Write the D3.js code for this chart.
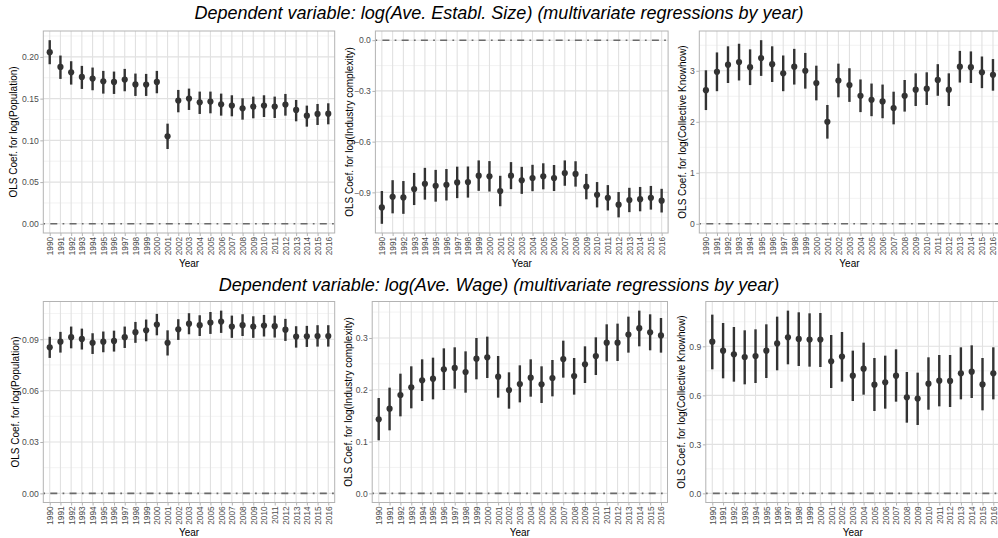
<!DOCTYPE html>
<html><head><meta charset="utf-8">
<script src="https://cdn.jsdelivr.net/npm/d3@7"></script>
<style>
body{margin:0;background:#fff;}
svg{display:block;font-family:"Liberation Sans",Arial,sans-serif;}
</style>
</head><body>
<svg id="chart" width="998" height="538"></svg>
<script>
// ---------------- DATA ----------------
const years = ["1990","1991","1992","1993","1994","1995","1996","1997","1998","1999","2000","2001","2002","2003","2004","2005","2006","2007","2008","2009","2010","2011","2012","2013","2014","2015","2016"];

const titles = [
  "Dependent variable: log(Ave. Establ. Size) (multivariate regressions by year)",
  "Dependent variable: log(Ave. Wage) (multivariate regressions by year)"
];
const yLabels = ["OLS Coef. for log(Population)", "OLS Coef. for log(Industry complexity)", "OLS Coef. for log(Collective Knowhow)"];
const xLabel = "Year";

// Establishment size: population
const sizePopEst = [0.2056,0.188,0.1816,0.176,0.174,0.1708,0.170,0.1728,0.167,0.1668,0.170,0.1048,0.1476,0.150,0.1456,0.1464,0.1432,0.1416,0.1384,0.1404,0.1416,0.1404,0.1428,0.1364,0.1296,0.1316,0.132];
const sizePopHi  = [0.220,0.2016,0.1948,0.1892,0.1872,0.1832,0.1824,0.1856,0.180,0.1796,0.1832,0.120,0.1604,0.162,0.1584,0.1584,0.156,0.154,0.1504,0.1524,0.154,0.1524,0.1556,0.1484,0.1416,0.1436,0.1444];
const sizePopLo  = [0.1912,0.1736,0.1668,0.1616,0.160,0.156,0.1556,0.1588,0.1532,0.1532,0.1564,0.0896,0.1336,0.1364,0.1316,0.1324,0.1296,0.1288,0.1248,0.1264,0.128,0.1268,0.1296,0.1228,0.1164,0.1184,0.1192];

// Establishment size: industry complexity
const sizeIndEst = [-0.989,-0.926,-0.930,-0.880,-0.849,-0.861,-0.855,-0.841,-0.839,-0.801,-0.805,-0.892,-0.801,-0.829,-0.815,-0.805,-0.815,-0.786,-0.791,-0.866,-0.914,-0.932,-0.973,-0.945,-0.940,-0.932,-0.949];
const sizeIndHi  = [-0.892,-0.828,-0.833,-0.785,-0.755,-0.767,-0.762,-0.748,-0.747,-0.711,-0.715,-0.802,-0.721,-0.749,-0.737,-0.728,-0.738,-0.711,-0.716,-0.791,-0.839,-0.857,-0.898,-0.873,-0.868,-0.862,-0.879];
const sizeIndLo  = [-1.086,-1.024,-1.027,-0.975,-0.943,-0.955,-0.948,-0.934,-0.931,-0.891,-0.895,-0.982,-0.881,-0.909,-0.893,-0.882,-0.892,-0.861,-0.866,-0.941,-0.989,-1.007,-1.048,-1.017,-1.012,-1.002,-1.019];

// Establishment size: collective knowhow
const sizeKnowEst = [2.62,2.98,3.12,3.17,3.07,3.25,3.13,2.95,3.08,3.00,2.76,2.00,2.81,2.72,2.51,2.43,2.40,2.27,2.51,2.63,2.65,2.82,2.63,3.08,3.07,2.97,2.92];
const sizeKnowHi  = [3.01,3.36,3.48,3.53,3.42,3.60,3.48,3.30,3.43,3.35,3.10,2.33,3.14,3.05,2.83,2.75,2.73,2.59,2.82,2.95,2.97,3.13,2.95,3.39,3.38,3.28,3.23];
const sizeKnowLo  = [2.23,2.60,2.76,2.81,2.72,2.90,2.78,2.60,2.73,2.65,2.42,1.67,2.48,2.39,2.19,2.11,2.07,1.95,2.20,2.31,2.33,2.51,2.31,2.77,2.76,2.66,2.61];

// Wage: population
const wagePopEst = [0.0853,0.0886,0.0912,0.0902,0.0879,0.0886,0.0890,0.0912,0.0941,0.0952,0.0986,0.0879,0.0958,0.0991,0.0982,0.0997,0.1003,0.0974,0.0982,0.0974,0.0980,0.0976,0.0956,0.0916,0.0917,0.0919,0.0919];
const wagePopHi  = [0.0914,0.0943,0.0974,0.0962,0.0935,0.0945,0.0950,0.0974,0.1001,0.1015,0.1048,0.0952,0.1017,0.1052,0.1040,0.1059,0.1067,0.1038,0.1046,0.1034,0.1042,0.1038,0.1019,0.0976,0.0978,0.0982,0.0982];
const wagePopLo  = [0.0791,0.0822,0.0847,0.0840,0.0814,0.0824,0.0828,0.0849,0.0879,0.0888,0.0923,0.0805,0.0896,0.0929,0.0919,0.0931,0.0937,0.0908,0.0919,0.0908,0.0916,0.0910,0.0890,0.0851,0.0855,0.0857,0.0857];

// Wage: industry complexity
const wageIndEst = [0.1429,0.1635,0.1899,0.2047,0.2182,0.2215,0.2395,0.2421,0.2343,0.2601,0.2627,0.2253,0.1996,0.2112,0.2234,0.2105,0.2227,0.2594,0.2266,0.2491,0.265,0.291,0.291,0.3065,0.319,0.311,0.305];
const wageIndHi  = [0.1841,0.2041,0.2311,0.2453,0.2588,0.2620,0.2800,0.2820,0.2742,0.3000,0.3026,0.2652,0.2337,0.2472,0.2588,0.2453,0.2575,0.2948,0.2614,0.2839,0.3013,0.3264,0.3277,0.3412,0.3528,0.3457,0.3386];
const wageIndLo  = [0.1024,0.1217,0.1487,0.1642,0.1783,0.1815,0.1996,0.2021,0.1944,0.2202,0.2227,0.1848,0.1635,0.1757,0.1867,0.1745,0.1873,0.2234,0.1906,0.2131,0.2285,0.2549,0.2556,0.2717,0.2839,0.2762,0.2717];

// Wage: collective knowhow
const wageKnowEst = [0.9286,0.8735,0.851,0.8347,0.8408,0.8735,0.918,0.955,0.945,0.941,0.941,0.808,0.837,0.7204,0.763,0.6653,0.680,0.7204,0.5878,0.580,0.6714,0.690,0.688,0.735,0.745,0.667,0.735];
const wageKnowHi  = [1.0939,1.0429,1.0184,0.998,1.004,1.0347,1.0816,1.1184,1.1082,1.102,1.104,0.9694,0.9878,0.8735,0.9224,0.8286,0.8429,0.8816,0.7429,0.7388,0.8327,0.8469,0.8469,0.8939,0.9061,0.8286,0.8939];
const wageKnowLo  = [0.7592,0.7041,0.6837,0.6673,0.6755,0.7061,0.7531,0.7898,0.7796,0.7755,0.7735,0.6449,0.6837,0.5653,0.6041,0.5041,0.5184,0.5612,0.4327,0.4184,0.5122,0.5327,0.5286,0.5755,0.5837,0.5082,0.5755];

// Y-axis tick values
const ticksSizePop  = [0.00, 0.05, 0.10, 0.15, 0.20];
const ticksSizeInd  = [-0.9, -0.6, -0.3, 0.0];
const ticksSizeKnow = [0, 1, 2, 3];
const ticksWagePop  = [0.00, 0.03, 0.06, 0.09];
const ticksWageInd  = [0.0, 0.1, 0.2, 0.3];
const ticksWageKnow = [0.0, 0.3, 0.6, 0.9];
const refValue = 0;

// ---------------- LAYOUT ----------------
const panels = [
  {est:sizePopEst, lo:sizePopLo, hi:sizePopHi, ticks:ticksSizePop, fmt:".2f", lab:0, x0:43.3, x1:334.7, y0:31, y1:233, labX:17.2},
  {est:sizeIndEst, lo:sizeIndLo, hi:sizeIndHi, ticks:ticksSizeInd, fmt:".1f", lab:1, x0:375.4, x1:668.1, y0:31, y1:233, labX:352.8},
  {est:sizeKnowEst, lo:sizeKnowLo, hi:sizeKnowHi, ticks:ticksSizeKnow, fmt:"d", lab:2, x0:699.3, x1:999.6, y0:31, y1:233, labX:686},
  {est:wagePopEst, lo:wagePopLo, hi:wagePopHi, ticks:ticksWagePop, fmt:".2f", lab:0, x0:43.3, x1:334.7, y0:301.5, y1:502.5, labX:18.6},
  {est:wageIndEst, lo:wageIndLo, hi:wageIndHi, ticks:ticksWageInd, fmt:".1f", lab:1, x0:372.2, x1:667.5, y0:301.5, y1:502.5, labX:352},
  {est:wageKnowEst, lo:wageKnowLo, hi:wageKnowHi, ticks:ticksWageKnow, fmt:".1f", lab:2, x0:705.8, x1:999.8, y0:301.5, y1:502.5, labX:685.3}
];

const svg = d3.select("#chart");
svg.append("rect").attr("width",998).attr("height",538).attr("fill","#fff");

// Titles
const titleY = [18.5, 290.5];
titles.forEach((t,i) => {
  svg.append("text").attr("x",499).attr("y",titleY[i])
    .attr("text-anchor","middle").attr("font-style","italic")
    .attr("font-size",18).attr("fill","#000").text(t);
});

panels.forEach((p) => {
  const g = svg.append("g");
  const x = d3.scalePoint().domain(years).range([p.x0, p.x1]).padding(0.6);
  const lo = Math.min(d3.min(p.lo), refValue), hi = Math.max(d3.max(p.hi), refValue);
  const pad = (hi - lo) * 0.05;
  const y = d3.scaleLinear().domain([lo - pad, hi + pad]).range([p.y1, p.y0]);

  // minor grid
  const step = p.ticks[1] - p.ticks[0];
  const minor = [p.ticks[0] - step/2].concat(p.ticks.map(t => t + step/2))
    .filter(v => v > y.domain()[0] && v < y.domain()[1]);
  g.selectAll(".minor").data(minor).join("line")
    .attr("x1",p.x0).attr("x2",p.x1).attr("y1",d=>y(d)).attr("y2",d=>y(d))
    .attr("stroke","#ebebeb").attr("stroke-width",0.6);
  // major grid
  g.selectAll(".majorY").data(p.ticks).join("line")
    .attr("x1",p.x0).attr("x2",p.x1).attr("y1",d=>y(d)).attr("y2",d=>y(d))
    .attr("stroke","#e1e1e1").attr("stroke-width",1.1);
  g.selectAll(".majorX").data(years).join("line")
    .attr("x1",d=>x(d)).attr("x2",d=>x(d)).attr("y1",p.y0).attr("y2",p.y1)
    .attr("stroke","#e1e1e1").attr("stroke-width",1.1);

  // zero reference line (dotdash)
  g.append("line").attr("x1",p.x0).attr("x2",p.x1)
    .attr("y1",y(refValue)).attr("y2",y(refValue))
    .attr("stroke","#6a6a6a").attr("stroke-width",1.6)
    .attr("stroke-dasharray","1.75 5.25 7 5.25");

  // error bars
  g.selectAll(".bar").data(years).join("line")
    .attr("x1",d=>x(d)).attr("x2",d=>x(d))
    .attr("y1",(d,i)=>y(p.lo[i])).attr("y2",(d,i)=>y(p.hi[i]))
    .attr("stroke","#333").attr("stroke-width",2.4);
  // points
  g.selectAll(".pt").data(years).join("circle")
    .attr("cx",d=>x(d)).attr("cy",(d,i)=>y(p.est[i])).attr("r",3.1)
    .attr("fill","#333");

  // border
  g.append("rect").attr("x",p.x0).attr("y",p.y0)
    .attr("width",p.x1-p.x0).attr("height",p.y1-p.y0)
    .attr("fill","none").attr("stroke","#b3b3b3").attr("stroke-width",1);

  // y axis
  const ya = g.append("g").attr("transform",`translate(${p.x0},0)`)
    .call(d3.axisLeft(y).tickValues(p.ticks).tickSize(3).tickPadding(1.5).tickFormat(d3.format(p.fmt)));
  ya.select(".domain").remove();
  ya.selectAll(".tick line").attr("stroke","#b3b3b3");
  ya.selectAll(".tick text").attr("fill","#4d4d4d").attr("font-size",8.6)
    .attr("font-family","'Liberation Sans',Arial,sans-serif");

  // x axis
  const xa = g.append("g").attr("transform",`translate(0,${p.y1})`)
    .call(d3.axisBottom(x).tickSize(3));
  xa.select(".domain").remove();
  xa.selectAll(".tick line").attr("stroke","#b3b3b3");
  xa.selectAll(".tick text").attr("fill","#4d4d4d").attr("font-size",8.2)
    .attr("font-family","'Liberation Sans',Arial,sans-serif")
    .attr("transform","rotate(-90)").attr("x",-4).attr("y",0)
    .attr("dy","0.35em").attr("text-anchor","end");

  // axis titles
  g.append("text").attr("x",(p.x0+p.x1)/2).attr("y",p.y1+33.5)
    .attr("text-anchor","middle").attr("font-size",10).attr("fill","#000").text(xLabel);
  g.append("text").attr("transform",`translate(${p.labX},${(p.y0+p.y1)/2}) rotate(-90)`)
    .attr("text-anchor","middle").attr("font-size",10).attr("fill","#000").text(yLabels[p.lab]);
});
</script>
</body></html>
